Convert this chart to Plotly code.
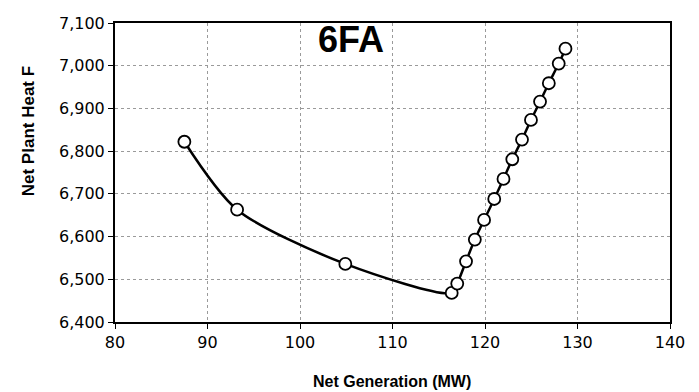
import plotly.graph_objects as go

net_generation_mw = [87.5, 93.2, 104.9, 116.4, 117.0, 117.95, 118.9, 119.9, 121.0,
                     122.0, 122.95, 124.0, 124.97, 125.95, 126.9, 127.97, 128.7]
net_plant_heat = [6822, 6663, 6536, 6468, 6490, 6542, 6593, 6639, 6688,
                  6735, 6781, 6827, 6873, 6916, 6959, 7005, 7040]
x_ticks = [80, 90, 100, 110, 120, 130, 140]
y_ticks = [6400, 6500, 6600, 6700, 6800, 6900, 7000, 7100]
y_tick_labels = ["6,400", "6,500", "6,600", "6,700", "6,800", "6,900", "7,000", "7,100"]

L, R, T, B = 107, 37, 6, 78
W, H = 699, 392
pw = W - L - R
ph = H - T - B


def px(x):
    return (x - 8 - L) / pw


def py(y):
    fy = (y - 15.2) / 0.977
    return (H - B - fy) / ph


fig = go.Figure()
fig.add_trace(go.Scatter(
    x=net_generation_mw, y=net_plant_heat,
    mode="lines+markers",
    line=dict(color="black", width=2.5, shape="spline", smoothing=0.8),
    marker=dict(symbol="circle", size=12, color="white",
                line=dict(color="black", width=1.8)),
    showlegend=False,
))

font_family = "Liberation Sans, Arial, sans-serif"
tick_family = "DejaVu Sans, sans-serif"
fig.update_layout(
    width=W, height=H,
    margin=dict(l=L, r=R, t=T, b=B),
    paper_bgcolor="white", plot_bgcolor="white",
    font=dict(family=font_family, color="black"),
    xaxis=dict(
        range=[80, 140], tickvals=x_ticks, ticks="outside", ticklen=5,
        tickcolor="black", tickfont=dict(size=16, family=tick_family),
        ticklabeloverflow="allow",
        showline=True, linecolor="black", linewidth=2, mirror=True,
        showgrid=True, gridcolor="#9a9a9a", griddash="dot", gridwidth=1,
        zeroline=False,
    ),
    yaxis=dict(
        range=[6400, 7100], tickvals=y_ticks, ticktext=y_tick_labels,
        ticks="outside", ticklen=5, tickcolor="black", tickfont=dict(size=16, family=tick_family),
        ticklabeloverflow="allow",
        showline=True, linecolor="black", linewidth=2, mirror=True,
        showgrid=True, gridcolor="#9a9a9a", griddash="dot", gridwidth=1,
        zeroline=False,
    ),
    annotations=[
        dict(text="<b>6FA</b>", x=px(351), y=py(38), xref="paper", yref="paper",
             xanchor="center", yanchor="middle", showarrow=False,
             font=dict(size=36, family=font_family)),
        dict(text="<b>Net Plant Heat F</b>", x=px(28), y=py(130), xref="paper", yref="paper",
             xanchor="center", yanchor="middle",
             showarrow=False, textangle=-90, font=dict(size=17, family=font_family)),
        dict(text="<b>Net Generation (MW)</b>", x=px(392), y=py(382), xref="paper", yref="paper",
             xanchor="center", yanchor="middle",
             showarrow=False, font=dict(size=16, family=font_family)),
    ],
)

fig.write_html("out.html")
